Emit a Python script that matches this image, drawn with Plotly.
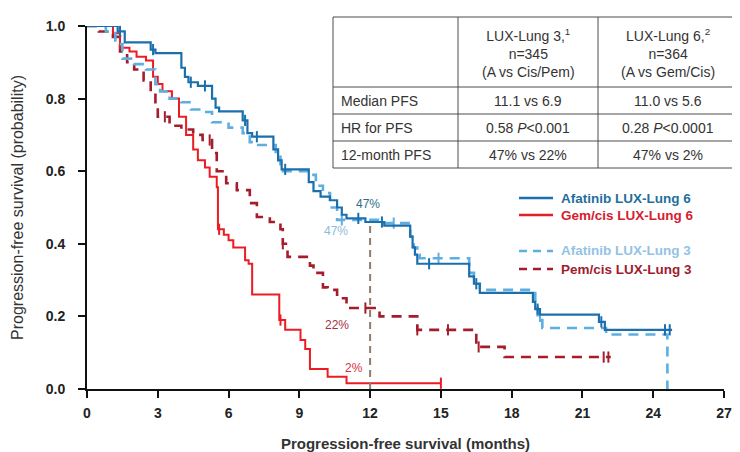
import numpy as np
import plotly.graph_objects as go

# ---------------- data ----------------
afa6_t = [0, 1.3, 1.6, 2.7, 2.9, 4.0, 4.15, 4.3, 4.7, 5.3, 5.45, 5.6, 6.6, 6.8, 7.0, 7.9, 8.1, 8.25, 9.4, 9.6,
          9.9, 10.3, 10.6, 10.8, 11.0, 11.8, 12.6, 13.7, 13.8, 13.9, 14.0, 16.2, 16.4, 16.65, 18.9, 19.0, 19.2,
          21.7, 21.95, 24.8]
afa6_s = [1.0, 0.985, 0.955, 0.935, 0.925, 0.885, 0.86, 0.845, 0.835, 0.80, 0.775, 0.765, 0.74, 0.705, 0.695,
          0.66, 0.63, 0.605, 0.57, 0.545, 0.53, 0.52, 0.50, 0.48, 0.47, 0.46, 0.45, 0.42, 0.39, 0.37, 0.345,
          0.31, 0.29, 0.265, 0.24, 0.22, 0.205, 0.185, 0.163, 0.163]
afa6_cens = [1.4, 2.8, 4.4, 5.0, 6.7, 7.2, 8.4, 11.5, 12.5, 14.5, 16.5, 19.1, 21.8, 24.5, 24.7]

afa3_t = [0, 0.8, 1.2, 1.5, 2.0, 2.5, 2.9, 3.1, 3.5, 4.0, 4.4, 4.9, 5.3, 6.0, 6.6, 6.9, 7.2, 8.0, 8.2, 9.5, 9.7,
          10.0, 10.3, 10.6, 12.6, 13.7, 13.85, 14.0, 14.1, 16.2, 16.4, 16.65, 19.0, 19.1, 19.3, 22.0, 24.6]
afa3_s = [1.0, 0.985, 0.95, 0.91, 0.895, 0.88, 0.84, 0.82, 0.80, 0.79, 0.77, 0.763, 0.735, 0.72, 0.705, 0.68,
          0.672, 0.64, 0.60, 0.59, 0.56, 0.54, 0.50, 0.466, 0.457, 0.42, 0.39, 0.37, 0.36, 0.32, 0.29, 0.273,
          0.24, 0.20, 0.168, 0.15, 0.0]
afa3_cens = [10.8, 13.0, 14.9, 19.2]

gem6_t = [0, 1.1, 1.4, 1.8, 2.1, 2.5, 2.8, 3.0, 3.2, 3.6, 3.9, 4.2, 4.5, 4.7, 5.0, 5.2, 5.5, 5.55, 5.8, 6.0, 6.2,
          6.7, 6.85, 7.0, 8.15, 8.4, 9.05, 9.25, 9.45, 10.2, 11.0, 15.0]
gem6_s = [1.0, 0.98, 0.94, 0.93, 0.915, 0.905, 0.86, 0.84, 0.82, 0.80, 0.75, 0.70, 0.66, 0.63, 0.61, 0.585, 0.556,
          0.44, 0.425, 0.41, 0.39, 0.355, 0.345, 0.26, 0.19, 0.163, 0.135, 0.11, 0.055, 0.034, 0.016, 0.016]
gem6_cens = [5.6, 8.2, 15.0]

pem3_t = [0, 0.5, 1.1, 1.4, 1.7, 2.0, 2.4, 2.7, 2.9, 3.0, 3.5, 4.0, 4.5, 4.9, 5.3, 5.5, 5.9, 6.35, 6.9, 7.2, 7.75,
          8.2, 8.3, 8.5, 9.45, 9.6, 10.0, 10.2, 10.6, 11.0, 12.4, 14.0, 16.5, 17.7, 22.2]
pem3_s = [1.0, 0.985, 0.97, 0.93, 0.90, 0.88, 0.85, 0.815, 0.78, 0.75, 0.725, 0.715, 0.70, 0.686, 0.65, 0.60,
          0.567, 0.548, 0.512, 0.474, 0.46, 0.44, 0.40, 0.364, 0.34, 0.32, 0.28, 0.273, 0.25, 0.223, 0.20, 0.163,
          0.116, 0.088, 0.088]
pem3_cens = [3.3, 5.2, 8.3, 11.8, 14.0, 15.3, 16.6, 21.9, 22.1]

series_names = ["Afatinib LUX-Lung 6", "Gem/cis LUX-Lung 6", "Afatinib LUX-Lung 3", "Pem/cis LUX-Lung 3"]
pct_labels = ["47%", "47%", "22%", "2%"]

x_ticks = [0, 3, 6, 9, 12, 15, 18, 21, 24, 27]
y_ticks = [0.0, 0.2, 0.4, 0.6, 0.8, 1.0]

table_header = ["", "LUX-Lung 3,<sup>1</sup><br>n=345<br>(A vs Cis/Pem)",
                "LUX-Lung 6,<sup>2</sup><br>n=364<br>(A vs Gem/Cis)"]
table_rows = [
    ["Median PFS", "11.1 vs 6.9", "11.0 vs 5.6"],
    ["HR for PFS", "0.58 <i>P</i><0.001", "0.28 <i>P</i><0.0001"],
    ["12-month PFS", "47% vs 22%", "47% vs 2%"],
]

# ---------------- styling ----------------
C_AFA6 = "#1b6fad"
C_AFA3 = "#5eaee2"
C_GEM6 = "#ec1c24"
C_PEM3 = "#a51d2d"
FONT = "Liberation Sans, Arial, sans-serif"

# plot area in reference pixels; page body margin offset compensation
OFF = 8
L, R, T, B = 87, 724, 26, 389
WREF, HREF = 740, 452
W, H = WREF - OFF, HREF - OFF


def px(x):
    return (x - L) / (R - L)


def py(y):
    return (B - y) / (B - T)


def step_at(ts, ss, t):
    i = np.searchsorted(np.array(ts), t, side="right") - 1
    return ss[max(i, 0)]


fig = go.Figure()


def add_km(ts, ss, cens, color, dash, width, name):
    fig.add_trace(go.Scatter(x=ts, y=ss, mode="lines", line=dict(color=color, width=width, dash=dash, shape="hv"),
                             name=name, showlegend=False, hoverinfo="skip", cliponaxis=False))
    cy = [step_at(ts, ss, c) for c in cens]
    fig.add_trace(go.Scatter(x=cens, y=cy, mode="markers",
                             marker=dict(symbol="line-ns", size=8, line=dict(color=color, width=2)),
                             showlegend=False, hoverinfo="skip", cliponaxis=False))


add_km(pem3_t, pem3_s, pem3_cens, C_PEM3, "10px,7px", 2.6, series_names[3])
add_km(gem6_t, gem6_s, gem6_cens, C_GEM6, "solid", 2.0, series_names[1])
add_km(afa3_t, afa3_s, afa3_cens, C_AFA3, "10px,7px", 2.6, series_names[2])
add_km(afa6_t, afa6_s, afa6_cens, C_AFA6, "solid", 2.2, series_names[0])

shapes = []
annotations = []

# 12-month reference line
shapes.append(dict(type="line", xref="x", yref="y", x0=12, x1=12, y0=0, y1=step_at(afa6_t, afa6_s, 12),
                   line=dict(color="#8c7d6e", width=2, dash="7px,5px")))

# percent labels
pct_pos = [(11.9, 0.51, "#2f6f86"), (10.55, 0.435, "#8dbbdc"), (10.6, 0.175, "#a5323f"), (11.3, 0.058, "#d9303e")]
for lab, (xx, yy, cc) in zip(pct_labels, pct_pos):
    annotations.append(dict(x=xx, y=yy, xref="x", yref="y", text=lab, showarrow=False,
                            xanchor="center", yanchor="middle",
                            font=dict(family=FONT, size=12, color=cc)))

# table
tx = [333, 458, 598, 737]
ty = [17, 87, 114, 141, 168]
shapes.append(dict(type="rect", xref="paper", yref="paper", x0=px(tx[0]), x1=px(tx[-1]), y0=py(ty[-1]),
                   y1=py(ty[0]), fillcolor="white", line=dict(color="#4d4d4d", width=1), layer="above"))
for xv in tx[1:-1]:
    shapes.append(dict(type="line", xref="paper", yref="paper", x0=px(xv), x1=px(xv), y0=py(ty[-1]), y1=py(ty[0]),
                       line=dict(color="#4d4d4d", width=1), layer="above"))
for yv in ty[1:-1]:
    shapes.append(dict(type="line", xref="paper", yref="paper", x0=px(tx[0]), x1=px(tx[-1]), y0=py(yv), y1=py(yv),
                       line=dict(color="#4d4d4d", width=1), layer="above"))

tfont = dict(family=FONT, size=14, color="#333333")
for j, txt in enumerate(table_header):
    if txt:
        annotations.append(dict(x=px((tx[j] + tx[j + 1]) / 2), y=py((ty[0] + ty[1]) / 2 + 1), xref="paper",
                                yref="paper", text=txt, showarrow=False, font=tfont, align="center",
                                xanchor="center", yanchor="middle"))
for i, row in enumerate(table_rows):
    yc = py((ty[i + 1] + ty[i + 2]) / 2)
    annotations.append(dict(x=px(tx[0] + 6), y=yc, xref="paper", yref="paper", text=row[0], showarrow=False,
                            font=tfont, xanchor="left", yanchor="middle"))
    for j in (1, 2):
        annotations.append(dict(x=px((tx[j] + tx[j + 1]) / 2), y=yc, xref="paper", yref="paper", text=row[j],
                                showarrow=False, font=tfont, xanchor="center", yanchor="middle"))

# legend (manual)
leg_y = [198, 215, 251, 269]
leg_colors = [C_AFA6, C_GEM6, C_AFA3, C_PEM3]
leg_text_colors = ["#1f6f9c", "#d7202e", "#93c3e4", "#9e1d2f"]
leg_dash = ["solid", "solid", "8px,6px", "8px,6px"]
for yy, lc, tc, dsh, nm in zip(leg_y, leg_colors, leg_text_colors, leg_dash, series_names):
    shapes.append(dict(type="line", xref="paper", yref="paper", x0=px(519), x1=px(553), y0=py(yy), y1=py(yy),
                       line=dict(color=lc, width=2.5, dash=dsh)))
    annotations.append(dict(x=px(559), y=py(yy), xref="paper", yref="paper", text="<b>" + nm + "</b>",
                            showarrow=False, xanchor="left", yanchor="middle",
                            font=dict(family=FONT, size=13.5, color=tc)))

fig.update_layout(
    width=W, height=H,
    margin=dict(l=L - OFF, r=WREF - R, t=T - OFF, b=HREF - B, autoexpand=False),
    paper_bgcolor="white", plot_bgcolor="white",
    shapes=shapes, annotations=annotations,
    showlegend=False,
    xaxis=dict(range=[0, 27], tickvals=x_ticks, ticktext=[str(v) for v in x_ticks], showgrid=False,
               zeroline=False, showline=True, linecolor="#111111", linewidth=2, ticks="outside", ticklen=7,
               tickwidth=2, tickcolor="#111111", automargin=False, ticklabelstandoff=3,
               tickfont=dict(family=FONT, size=14, color="#222222", weight="bold"),
               title=dict(text="Progression-free survival (months)", standoff=24,
                          font=dict(family=FONT, size=15, color="#333333", weight="bold"))),
    yaxis=dict(range=[0, 1.0], tickvals=y_ticks, ticktext=["%.1f" % v for v in y_ticks], showgrid=False,
               zeroline=False, showline=True, linecolor="#111111", linewidth=2, ticks="outside", ticklen=7,
               tickwidth=2, tickcolor="#111111", automargin=False, ticklabelstandoff=10,
               tickfont=dict(family=FONT, size=14, color="#222222", weight="bold"),
               title=dict(text="Progression-free survival (probability)", standoff=18,
                          font=dict(family=FONT, size=16, color="#333333"))),
)

fig.write_html("out.html")
